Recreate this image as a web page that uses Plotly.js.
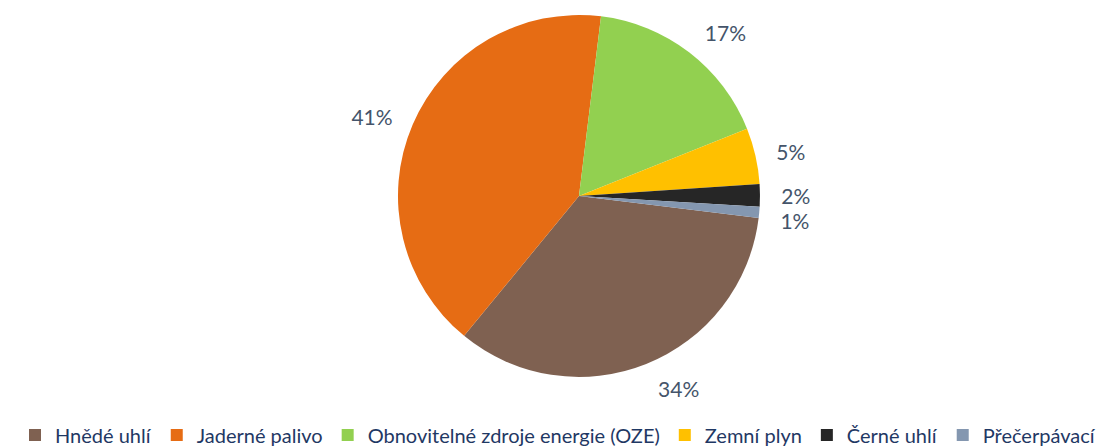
<!DOCTYPE html>
<html>
<head>
<meta charset="utf-8">
<script src="https://cdn.plot.ly/plotly-3.0.1.min.js"></script>
<style>html,body{margin:0;padding:0;background:#fff;}#chart{width:1116px;height:446px;}
#chart path.textline{display:none;}</style>
</head>
<body>
<div id="chart"></div>
<script>
const categories = ["Hnědé uhlí", "Jaderné palivo", "Obnovitelné zdroje energie (OZE)", "Zemní plyn", "Černé uhlí", "Přečerpávací"];
const shares = [34, 41, 17, 5, 2, 1];
const sliceColors = ["#7F6151", "#E66C14", "#92D050", "#FFC000", "#262626", "#8497B0"];

const font = "Lato, 'Noto Sans', sans-serif";

const pieTrace = {
  type: "pie",
  labels: categories,
  values: shares,
  sort: false,
  direction: "clockwise",
  rotation: 97,
  marker: {colors: sliceColors, line: {color: "#ffffff", width: 0}},
  textinfo: "none",
  domain: {x: [0.3566, 0.681], y: [0.0575, 0.9625]},
  hoverinfo: "label+percent"
};

// transparent companion pie that only carries the percentage labels, a bit further out
const labelTrace = {
  type: "pie",
  labels: categories,
  values: shares,
  sort: false,
  direction: "clockwise",
  rotation: 97,
  showlegend: false,
  marker: {colors: categories.map(() => "rgba(0,0,0,0)"), line: {width: 0}},
  texttemplate: "%{percent:.0%}",
  textposition: "outside",
  textfont: {family: font, size: 21, color: "#44546A"},
  domain: {x: [0.3432, 0.6944], y: [0.02, 1]},
  hoverinfo: "skip"
};

const layout = {
  width: 1116,
  height: 446,
  margin: {l: 0, r: 0, t: 0, b: 46},
  paper_bgcolor: "#ffffff",
  showlegend: true,
  legend: {
    orientation: "h",
    xref: "container", yref: "container",
    x: 0.5, xanchor: "center",
    y: 0.0247, yanchor: "middle",
    bgcolor: "rgba(0,0,0,0)",
    font: {family: font, size: 20, color: "#1F3864"},
    itemwidth: 30,
    tracegroupgap: 0
  }
};

Plotly.newPlot("chart", [pieTrace, labelTrace], layout, {displayModeBar: false, staticPlot: true});
</script>
</body>
</html>
